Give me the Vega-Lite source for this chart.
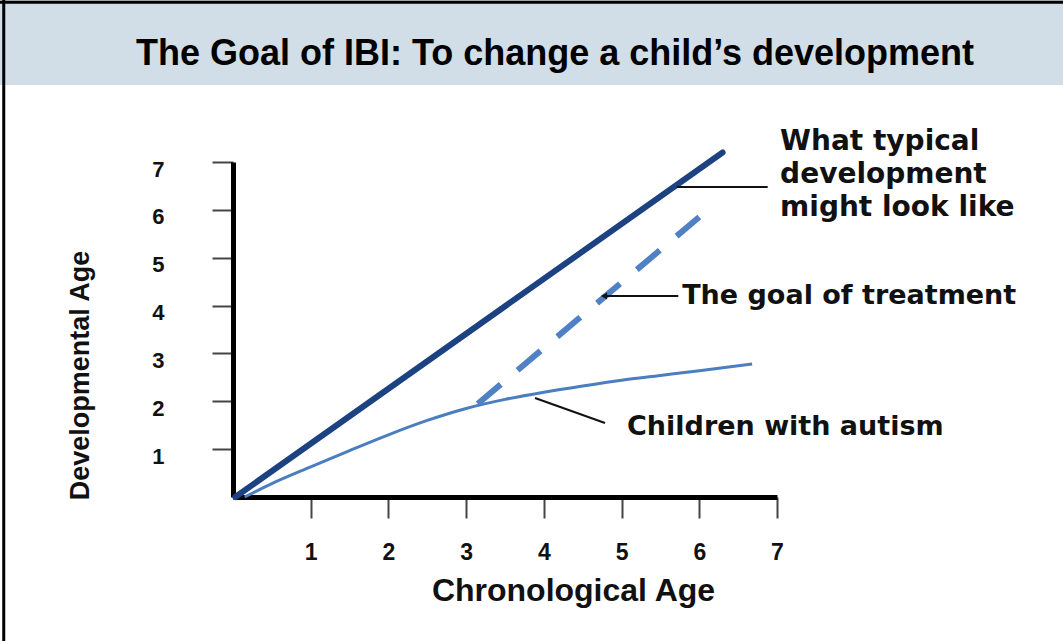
{
  "$schema": "https://vega.github.io/schema/vega-lite/v6.json",
  "width": 544,
  "height": 335,
  "autosize": {"type": "none"},
  "padding": {"left": 233, "top": 162, "right": 286, "bottom": 144},
  "background": "white",
  "config": {"view": {"stroke": null}, "font": "Liberation Sans"},
  "title": {
    "text": "The Goal of IBI: To change a child’s development",
    "font": "Liberation Sans",
    "fontSize": 36,
    "fontWeight": "bold",
    "color": "#000000",
    "anchor": "middle",
    "frame": "group",
    "baseline": "middle",
    "offset": -95.5,
    "dx": 50
  },
  "datasets": {
    "lines": [
      {"series": "typical", "x": 0.03, "y": 0},
      {"series": "typical", "x": 6.3, "y": 7.2},
      {"series": "goal", "x": 3.15, "y": 1.95},
      {"series": "goal", "x": 6.0, "y": 5.85},
      {"series": "autism", "x": 0.15, "y": 0},
      {"series": "autism", "x": 0.5, "y": 0.28},
      {"series": "autism", "x": 1.0, "y": 0.63},
      {"series": "autism", "x": 1.5, "y": 0.97},
      {"series": "autism", "x": 2.0, "y": 1.3},
      {"series": "autism", "x": 2.5, "y": 1.6},
      {"series": "autism", "x": 3.0, "y": 1.85},
      {"series": "autism", "x": 3.5, "y": 2.04},
      {"series": "autism", "x": 4.0, "y": 2.19},
      {"series": "autism", "x": 4.5, "y": 2.32},
      {"series": "autism", "x": 5.0, "y": 2.44},
      {"series": "autism", "x": 5.5, "y": 2.54},
      {"series": "autism", "x": 6.0, "y": 2.64},
      {"series": "autism", "x": 6.68, "y": 2.78}
    ],
    "pointers": [
      {"target": "typical", "x": 5.71, "y": 6.48, "x2": 6.88, "y2": 6.48},
      {"target": "goal", "x": 4.8, "y": 4.2, "x2": 5.73, "y2": 4.2},
      {"target": "autism", "x": 3.886, "y": 2.07, "x2": 4.787, "y2": 1.546}
    ],
    "arrows": [
      {"target": "goal", "x": 4.774, "y": 4.2}
    ],
    "labels": [
      {"group": "big", "label": "What typical\ndevelopment\nmight look like", "x": 7.04, "y": 7.42},
      {"group": "small", "label": "The goal of treatment", "x": 5.78, "y": 4.2},
      {"group": "small", "label": "Children with autism", "x": 5.07, "y": 1.46}
    ]
  },
  "layer": [
    {
      "data": {"values": [{"part": "title bar"}]},
      "mark": {"type": "rect", "color": "#d1dde7"},
      "encoding": {
        "x": {"datum": -3.1, "type": "quantitative"},
        "x2": {"datum": 10.8},
        "y": {"datum": 8.61, "type": "quantitative"},
        "y2": {"datum": 10.5}
      }
    },
    {
      "data": {"values": [{"part": "left border"}]},
      "mark": {"type": "rule", "color": "#000000", "strokeWidth": 3},
      "encoding": {
        "x": {"datum": -2.95, "type": "quantitative"},
        "y": {"datum": -3.2, "type": "quantitative"},
        "y2": {"datum": 10.4}
      }
    },
    {
      "data": {"values": [{"part": "top border"}]},
      "mark": {"type": "rule", "color": "#000000", "strokeWidth": 3},
      "encoding": {
        "x": {"datum": -3.1, "type": "quantitative"},
        "x2": {"datum": 10.8},
        "y": {"datum": 10.34, "type": "quantitative"}
      }
    },
    {
      "data": {"name": "lines"},
      "transform": [{"filter": "datum.series === 'typical'"}],
      "mark": {"type": "line", "color": "#1d4282", "strokeWidth": 6, "strokeCap": "round"},
      "encoding": {
        "x": {
          "field": "x",
          "type": "quantitative",
          "scale": {"domain": [0, 7], "nice": false, "zero": false},
          "axis": {
            "title": "Chronological Age",
            "values": [1, 2, 3, 4, 5, 6, 7],
            "format": "d",
            "grid": false,
            "domainColor": "#000000",
            "domainWidth": 5,
            "tickColor": "#444444",
            "tickWidth": 2,
            "tickSize": 21,
            "labelFont": "Liberation Sans",
            "labelFontSize": 23,
            "labelFontWeight": "bold",
            "labelColor": "#111111",
            "labelPadding": 34,
            "labelBaseline": "middle",
            "labelFlush": false,
            "labelOverlap": false,
            "titleFont": "Liberation Sans",
            "titleFontSize": 32,
            "titleFontWeight": "bold",
            "titleColor": "#111111",
            "titleX": 340,
            "titleY": 93,
            "titleAlign": "center",
            "titleBaseline": "middle"
          }
        },
        "y": {
          "field": "y",
          "type": "quantitative",
          "scale": {"domain": [0, 7], "nice": false, "zero": false},
          "axis": {
            "title": "Developmental Age",
            "values": [1, 2, 3, 4, 5, 6, 7],
            "format": "d",
            "grid": false,
            "domainColor": "#000000",
            "domainWidth": 5,
            "tickColor": "#444444",
            "tickWidth": 2,
            "tickSize": 21,
            "labelFont": "Liberation Sans",
            "labelFontSize": 22,
            "labelFontWeight": "bold",
            "labelColor": "#111111",
            "labelPadding": 48,
            "labelOffset": 7,
            "labelBaseline": "middle",
            "labelFlush": false,
            "labelOverlap": false,
            "titleFont": "Liberation Sans",
            "titleFontSize": 27,
            "titleFontWeight": "bold",
            "titleColor": "#111111",
            "titleX": -153,
            "titleY": 213,
            "titleAngle": -90,
            "titleAlign": "center",
            "titleBaseline": "middle"
          }
        }
      }
    },
    {
      "data": {"name": "lines"},
      "transform": [{"filter": "datum.series === 'autism'"}],
      "mark": {"type": "line", "color": "#4a7ebf", "strokeWidth": 3, "interpolate": "monotone"},
      "encoding": {
        "x": {"field": "x", "type": "quantitative"},
        "y": {"field": "y", "type": "quantitative"}
      }
    },
    {
      "data": {"name": "lines"},
      "transform": [{"filter": "datum.series === 'goal'"}],
      "mark": {"type": "line", "color": "#4f81c4", "strokeWidth": 6, "strokeDash": [30, 22]},
      "encoding": {
        "x": {"field": "x", "type": "quantitative"},
        "y": {"field": "y", "type": "quantitative"}
      }
    },
    {
      "data": {"name": "pointers"},
      "mark": {"type": "rule", "color": "#111111", "strokeWidth": 2},
      "encoding": {
        "x": {"field": "x", "type": "quantitative"},
        "y": {"field": "y", "type": "quantitative"},
        "x2": {"field": "x2"},
        "y2": {"field": "y2"}
      }
    },
    {
      "data": {"name": "arrows"},
      "mark": {"type": "point", "shape": "triangle-left", "filled": true, "color": "#111111", "size": 50, "opacity": 1},
      "encoding": {
        "x": {"field": "x", "type": "quantitative"},
        "y": {"field": "y", "type": "quantitative"}
      }
    },
    {
      "data": {"name": "labels"},
      "transform": [{"filter": "datum.group === 'big'"}],
      "mark": {"type": "text", "align": "left", "baseline": "middle", "font": "DejaVu Sans", "fontWeight": "bold", "fontSize": 28, "lineHeight": 33, "lineBreak": "\n", "color": "#111111"},
      "encoding": {
        "x": {"field": "x", "type": "quantitative"},
        "y": {"field": "y", "type": "quantitative"},
        "text": {"field": "label"}
      }
    },
    {
      "data": {"name": "labels"},
      "transform": [{"filter": "datum.group === 'small'"}],
      "mark": {"type": "text", "align": "left", "baseline": "middle", "font": "DejaVu Sans", "fontWeight": "bold", "fontSize": 27, "color": "#111111"},
      "encoding": {
        "x": {"field": "x", "type": "quantitative"},
        "y": {"field": "y", "type": "quantitative"},
        "text": {"field": "label"}
      }
    }
  ]
}
